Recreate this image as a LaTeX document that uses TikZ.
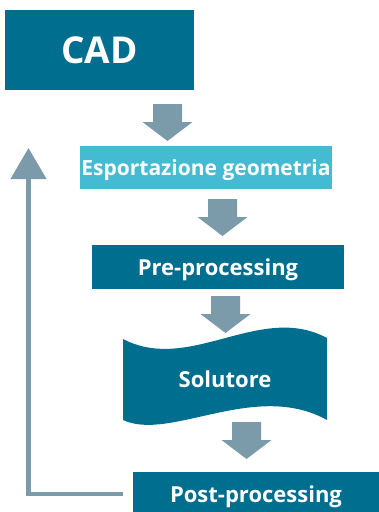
\documentclass[tikz,border=0pt]{standalone}
\usepackage{fontspec}
\setmainfont{Open Sans}
\usepackage{tikz}
\usetikzlibrary{arrows.meta}
\definecolor{cadblue}{RGB}{0,110,143}
\definecolor{geoblue}{RGB}{68,187,210}
\definecolor{arrowgray}{RGB}{123,155,170}

\tikzset{
  box/.style={fill=cadblue, text=white, inner sep=0pt, text depth=0pt,
    font=\bfseries\fontsize{22}{26}\selectfont},
  loopline/.style={arrowgray, line width=4.5pt, -{Triangle[width=35pt,length=31pt]}}
}

\begin{document}
\begin{tikzpicture}[x=1pt,y=-1pt]
\useasboundingbox (0,0) rectangle (379,512);

  %% Steps
  \node[box, minimum width=189pt, minimum height=80pt,
        font=\bfseries\fontsize{37}{40}\selectfont] (cad) at (99.5,50) {CAD};
  \node[box, fill=geoblue, minimum width=252pt, minimum height=43pt,
        font=\bfseries\fontsize{21}{24}\selectfont] (geo) at (206,167.5) {Esportazione geometria};
  \node[box, minimum width=252pt, minimum height=44pt] (pre) at (218,267) {Pre-processing};
  \node[box, minimum width=246pt, minimum height=44pt] (post) at (256,494) {Post-processing};

  %% Solver (wavy)
  \fill[cadblue] (123,339) .. controls (190,374) and (260,302) .. (327,338)
     -- (327,420) .. controls (255,380) and (170,442) .. (123,420) -- cycle;
  \node[box, fill=none] (sol) at (225,379) {Solutore};

  %% Block arrows
  \foreach \x/\y in {167.5/104, 222.5/199, 225.5/296, 246.5/422}{
    \fill[arrowgray] (\x-14.5,\y) -- (\x+14.5,\y) -- (\x+14.5,\y+18) -- (\x+25,\y+18)
       -- (\x,\y+37) -- (\x-25,\y+18) -- (\x-14.5,\y+18) -- cycle;
  }

  %% Back to CAD
  \coordinate (top) at (28.5,148);
  \draw[loopline] ([xshift=-10pt]post.west) -| (top);

\end{tikzpicture}
\end{document}
